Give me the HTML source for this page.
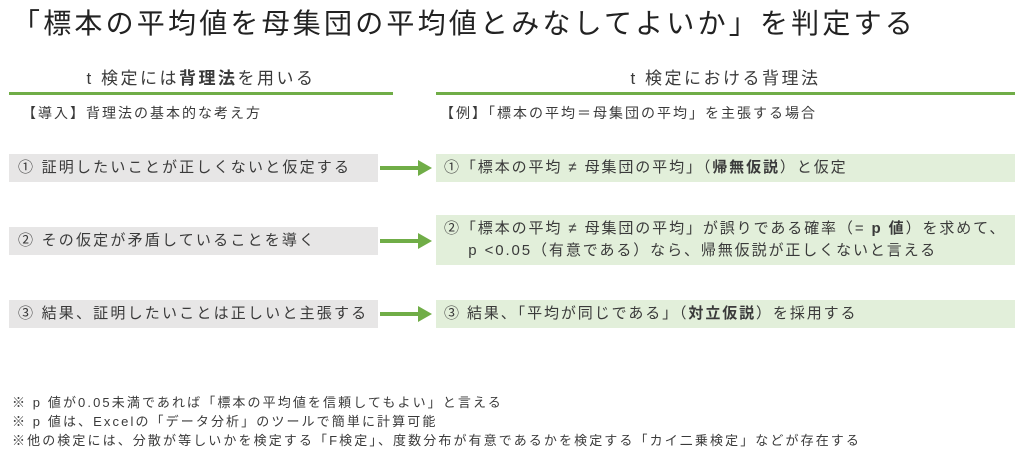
<!DOCTYPE html>
<html><head><meta charset="utf-8"><style>
body{margin:0;width:1024px;height:453px;background:#fff;position:relative;font-family:"Liberation Sans","Noto Sans CJK JP",sans-serif;color:#3a3a3a;overflow:hidden}
div{position:absolute;white-space:nowrap}
.t{left:12px;top:2px;font-size:28px;letter-spacing:3.2px;color:#222}
.h{font-size:17px;top:64px;text-align:center;letter-spacing:2.5px}
.ln{height:3px;background:#70ad47;top:92px}
.s{font-size:14px;top:103px;letter-spacing:2px}
.lb{left:9px;width:369px;height:28px;background:#e7e6e6;font-size:15px;line-height:28px;padding-left:9px;box-sizing:border-box;letter-spacing:2.2px}
.rb{left:436px;width:579px;background:#e2efda;font-size:15px;padding-left:8px;box-sizing:border-box;letter-spacing:1.9px}
.ar{left:380px;width:40px;height:4px;background:#70ad47}
.ah{left:418px;width:0;height:0;border-left:14px solid #70ad47;border-top:8px solid transparent;border-bottom:8px solid transparent}
.f{left:12px;font-size:13px;letter-spacing:2.1px}
</style></head><body>
<div class="t">「標本の平均値を母集団の平均値とみなしてよいか」を判定する</div>
<div class="h" style="left:9px;width:384px">t 検定には<b>背理法</b>を用いる</div>
<div class="h" style="left:436px;width:579px">t 検定における背理法</div>
<div class="ln" style="left:9px;width:384px"></div>
<div class="ln" style="left:436px;width:579px"></div>
<div class="s" style="left:22px">【導入】背理法の基本的な考え方</div>
<div class="s" style="left:440px">【例】「標本の平均＝母集団の平均」を主張する場合</div>

<div class="lb" style="top:154px">① 証明したいことが正しくないと仮定する</div>
<div class="lb" style="top:227px">② その仮定が矛盾していることを導く</div>
<div class="lb" style="top:300px">③ 結果、証明したいことは正しいと主張する</div>

<div class="ar" style="top:166px"></div><div class="ah" style="top:160px"></div>
<div class="ar" style="top:239px"></div><div class="ah" style="top:233px"></div>
<div class="ar" style="top:312px"></div><div class="ah" style="top:306px"></div>

<div class="rb" style="top:154px;height:28px;line-height:28px">①「標本の平均 ≠ 母集団の平均」（<b>帰無仮説</b>）と仮定</div>
<div class="rb" style="top:215px;height:50px;line-height:22px;padding-top:3px">②「標本の平均 ≠ 母集団の平均」が誤りである確率（= <b>p 値</b>）を求めて、<br>&nbsp;&nbsp;&nbsp;&nbsp;p &lt;0.05（有意である）なら、帰無仮説が正しくないと言える</div>
<div class="rb" style="top:300px;height:28px;line-height:28px">③ 結果、「平均が同じである」（<b>対立仮説</b>）を採用する</div>

<div class="f" style="top:392px">※ p 値が0.05未満であれば「標本の平均値を信頼してもよい」と言える</div>
<div class="f" style="top:411px">※ p 値は、Excelの「データ分析」のツールで簡単に計算可能</div>
<div class="f" style="top:430px">※他の検定には、分散が等しいかを検定する「F検定」、度数分布が有意であるかを検定する「カイ二乗検定」などが存在する</div>
</body></html>
